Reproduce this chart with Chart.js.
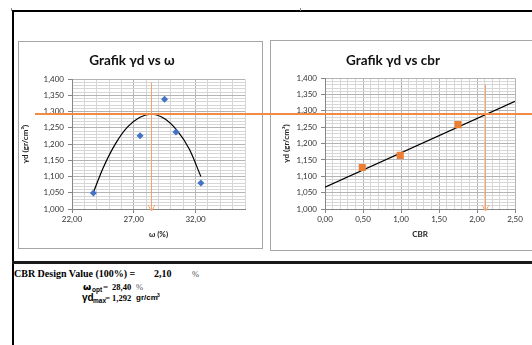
<!DOCTYPE html>
<html>
<head>
<meta charset="utf-8">
<script src="https://cdn.jsdelivr.net/npm/chart.js@4.4.1/dist/chart.umd.min.js"></script>
<style>
  html, body { margin: 0; padding: 0; background: #fff; }
  body { position: relative; width: 532px; height: 345px; overflow: hidden; }
  .rule { position: absolute; background: #000; }
  .box { position: absolute; border: 1px solid #a6a6a6; background: #fff; }
  canvas { position: absolute; }
  .t { position: absolute; white-space: nowrap; line-height: 12px; height: 12px; color: #000; font-weight: bold; }
  .serif { font-family: "Liberation Serif", "DejaVu Serif", serif; }
  .sans { font-family: "Liberation Sans", Arial, sans-serif; }
  .dv { font-family: "DejaVu Sans", sans-serif; }
  .pct { font-weight: normal; color: #555; font-size: 8.5px; }
  .sub { font-size: 6.5px; }
</style>
</head>
<body>
<div class="rule" style="left:12px;top:10px;width:520px;height:1.5px"></div>
<div class="rule" style="left:12px;top:10px;width:1.5px;height:335px"></div>
<div class="rule" style="left:11px;top:8px;width:1px;height:3px;background:#888"></div>
<div class="rule" style="left:300px;top:8px;width:1px;height:3px;background:#888"></div>

<div class="box" style="left:18px;top:41px;width:243px;height:206px"></div>
<div class="box" style="left:270px;top:40px;width:280px;height:209px"></div>
<canvas id="omegaChart" width="243" height="206" style="left:19px;top:42px"></canvas>
<canvas id="cbrChart" width="261" height="209" style="left:271px;top:41px"></canvas>

<div class="rule" style="left:12px;top:261px;width:520px;height:3px;background:#1a1a1a"></div>

<div class="t serif" style="left:14px;top:268px;font-size:10px">CBR Design Value (100%) =</div>
<div class="t serif" style="left:154px;top:268px;font-size:10px">2,10</div>
<div class="t serif pct" style="left:192px;top:268px">%</div>

<div class="t dv" style="left:83px;top:281px;font-size:9.5px">ω</div>
<div class="t sans sub" style="left:92px;top:284px">opt</div>
<div class="t serif" style="left:103px;top:281px;font-size:9px">=</div>
<div class="t serif" style="left:112px;top:281px;font-size:8.5px">28,40</div>
<div class="t serif pct" style="left:136px;top:281px">%</div>

<div class="t sans" style="left:82px;top:292px;font-size:10px">γd</div>
<div class="t sans sub" style="left:93px;top:295px">max</div>
<div class="t serif" style="left:105px;top:292px;font-size:9px">=</div>
<div class="t serif" style="left:112px;top:292px;font-size:8.5px">1,292</div>
<div class="t sans" style="left:136px;top:292px;font-size:8px">gr/cm</div>
<div class="t sans" style="left:157px;top:289px;font-size:5px">3</div>

<div id="designLine" style="position:absolute;left:35px;width:497px;height:1.5px;background:#f08c46"></div>

<script>
// compaction test readings
const omegaPoints = [23.73, 27.51, 29.49, 30.41, 32.43];
const gammaPoints = [1.049, 1.226, 1.338, 1.237, 1.080];

// polynomial trendline as it is drawn in the sheet
const omegaTrend = [23.73, 24.5, 25.5, 26.5, 27.5, 28.4, 29.5, 30.5, 31.5, 32.43];
const gammaTrend = [1.051, 1.125, 1.200, 1.253, 1.283, 1.292, 1.278, 1.242, 1.184, 1.100];

// cbr readings
const cbrPoints = [0.49, 0.99, 1.75];
const gammaCbrPoints = [1.127, 1.164, 1.258];

// linear trendline (forecast to 2,50)
const cbrTrend = [0.0, 2.5];
const gammaCbrTrend = [1.067, 1.329];

// results
const cbrDesign = 2.10;
const omegaOpt = 28.40;
const gammaMax = 1.292;

// axes
const gammaRange = [1.0, 1.4];
const omegaRange = [22, 36];
const cbrRange = [0, 2.5];
const gammaTicks = [1.000, 1.050, 1.100, 1.150, 1.200, 1.250, 1.300, 1.350, 1.400];
const omegaTicks = [22, 27, 32];
const cbrTicks = [0.0, 0.5, 1.0, 1.5, 2.0, 2.5];

const tickFont = { family: "Lato, 'Open Sans', sans-serif", size: 8 };
const titleFont = { family: "Lato, 'Open Sans', sans-serif", size: 8, weight: "bold" };

function isMajor(value, list) {
  return list.some((v) => Math.abs(v - value) < 1e-6);
}

function fmt(value, digits) {
  return value.toFixed(digits).replace(".", ",");
}

function axis(range, step, majors, digits, title, opts) {
  return {
    type: "linear",
    min: range[0],
    max: range[1],
    afterFit: opts.afterFit,
    border: { color: "#868686" },
    grid: {
      color: (c) => (c.tick && isMajor(c.tick.value, majors) ? "#b4b4b4" : "#d6d6d6"),
      tickColor: (c) => (c.tick && isMajor(c.tick.value, majors) ? "#868686" : "rgba(0,0,0,0)"),
      tickLength: 4,
    },
    ticks: {
      stepSize: step,
      autoSkip: false,
      maxRotation: 0,
      minRotation: 0,
      padding: opts.tickPad,
      color: "#333",
      font: tickFont,
      callback: (v) => (isMajor(v, majors) ? fmt(v, digits) : ""),
    },
    title: {
      display: true,
      text: title,
      color: "#222",
      font: titleFont,
      padding: opts.titlePad,
    },
  };
}

const dropLine = {
  id: "dropLine",
  afterDatasetsDraw(chart, args, opts) {
    const { ctx } = chart;
    const { x, y } = chart.scales;
    const px = Math.round(x.getPixelForValue(opts.value)) + 0.5;
    const top = y.getPixelForValue(opts.from);
    const bottom = y.getPixelForValue(y.min) + 2;
    ctx.save();
    ctx.strokeStyle = "#f3a46c";
    ctx.lineWidth = 1;
    ctx.beginPath();
    ctx.moveTo(px, top);
    ctx.lineTo(px, bottom);
    ctx.moveTo(px - 3.5, bottom - 6);
    ctx.lineTo(px, bottom);
    ctx.lineTo(px + 3.5, bottom - 6);
    ctx.stroke();
    ctx.restore();
  },
};

function makeChart(canvas, cfg) {
  return new Chart(canvas, {
    type: "scatter",
    data: {
      datasets: [
        {
          data: cfg.points,
          pointStyle: cfg.pointStyle,
          pointRadius: cfg.pointRadius,
          backgroundColor: cfg.pointColor,
          borderColor: cfg.pointColor,
          borderWidth: 0,
          showLine: false,
        },
        {
          data: cfg.trend,
          showLine: true,
          pointRadius: 0,
          borderColor: "#000",
          borderWidth: 1.2,
          cubicInterpolationMode: "monotone",
        },
      ],
    },
    options: {
      responsive: false,
      animation: false,
      devicePixelRatio: 1,
      layout: { padding: { left: 0, right: cfg.padRight, top: 0, bottom: 0 } },
      plugins: {
        legend: { display: false },
        tooltip: { enabled: false },
        title: {
          display: true,
          text: cfg.title,
          color: "#111",
          font: { family: "Lato, 'Open Sans', sans-serif", size: 13.5, weight: "bold" },
          padding: cfg.titlePad,
        },
        dropLine: { value: cfg.dropAt, from: cfg.dropFrom },
      },
      scales: {
        x: axis(cfg.xRange, cfg.xStep, cfg.xTicks, 2, cfg.xTitle, {
          afterFit: (s) => { s.height = cfg.xHeight; },
          tickPad: 2,
          titlePad: { top: 0, bottom: cfg.xTitlePad },
        }),
        y: axis(gammaRange, 0.01, gammaTicks, 3, "γd (gr/cm³)", {
          afterFit: (s) => { s.width = cfg.yWidth; },
          tickPad: 4,
          titlePad: { top: cfg.yTitlePad, bottom: 0 },
        }),
      },
    },
    plugins: [dropLine],
  });
}

const omegaChart = makeChart(document.getElementById("omegaChart"), {
  title: "Grafik γd vs ω",
  points: omegaPoints.map((x, i) => ({ x, y: gammaPoints[i] })),
  trend: omegaTrend.map((x, i) => ({ x, y: gammaTrend[i] })),
  pointStyle: "rectRot",
  pointRadius: 3.5,
  pointColor: "#4472c4",
  xRange: omegaRange,
  xStep: 1,
  xTicks: omegaTicks,
  xTitle: "ω (%)",
  dropAt: omegaOpt,
  dropFrom: 1.39,
  padRight: 17,
  yWidth: 53,
  xHeight: 39,
  xTitlePad: 9,
  yTitlePad: 2,
  titlePad: { top: 11, bottom: 10 },
});

const cbrChart = makeChart(document.getElementById("cbrChart"), {
  title: "Grafik γd vs cbr",
  points: cbrPoints.map((x, i) => ({ x, y: gammaCbrPoints[i] })),
  trend: cbrTrend.map((x, i) => ({ x, y: gammaCbrTrend[i] })),
  pointStyle: "rect",
  pointRadius: 5,
  pointColor: "#ed7d31",
  xRange: cbrRange,
  xStep: 0.1,
  xTicks: cbrTicks,
  xTitle: "CBR",
  dropAt: cbrDesign,
  dropFrom: 1.38,
  padRight: 17,
  yWidth: 54,
  xHeight: 41,
  xTitlePad: 11,
  yTitlePad: 11,
  titlePad: { top: 12, bottom: 9 },
});

const lineY = 42 + omegaChart.scales.y.getPixelForValue(gammaMax);
document.getElementById("designLine").style.top = (lineY - 0.75) + "px";
</script>
</body>
</html>
